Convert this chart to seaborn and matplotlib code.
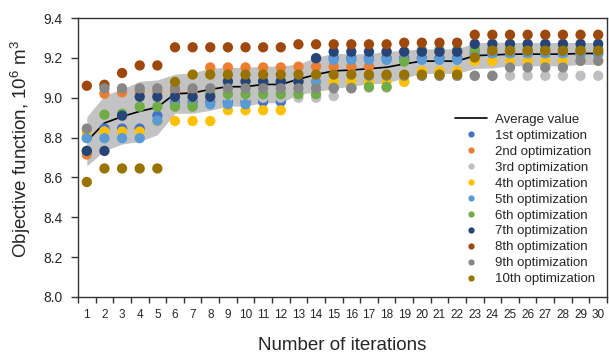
import numpy as np
import pandas as pd
import matplotlib
matplotlib.use("Agg")
import matplotlib.pyplot as plt
import seaborn as sns
from matplotlib.lines import Line2D
from matplotlib.ticker import FormatStrFormatter, FixedLocator

iterations = list(range(1, 31))

opt1 = [8.800, 8.845, 8.845, 8.845, 8.910, 8.980, 8.980, 8.980, 8.980, 8.980,
        8.980, 8.980, 9.080, 9.198, 9.200, 9.200, 9.200, 9.200, 9.200, 9.200,
        9.200, 9.200, 9.220, 9.220, 9.220, 9.220, 9.220, 9.220, 9.220, 9.220]
opt2 = [8.715, 9.020, 9.027, 9.030, 9.030, 9.030, 9.030, 9.152, 9.152, 9.152,
        9.152, 9.152, 9.156, 9.156, 9.156, 9.156, 9.156, 9.230, 9.230, 9.230,
        9.230, 9.230, 9.230, 9.230, 9.230, 9.230, 9.230, 9.230, 9.230, 9.230]
opt3 = [8.733, 8.830, 8.910, 9.000, 9.000, 9.000, 9.000, 9.000, 9.000, 9.000,
        9.000, 9.000, 9.000, 9.000, 9.008, 9.050, 9.050, 9.050, 9.080, 9.110,
        9.110, 9.110, 9.110, 9.110, 9.110, 9.110, 9.110, 9.110, 9.110, 9.110]
opt4 = [8.820, 8.830, 8.830, 8.830, 8.883, 8.883, 8.883, 8.883, 8.937, 8.937,
        8.937, 8.937, 9.080, 9.080, 9.080, 9.080, 9.080, 9.080, 9.080, 9.133,
        9.133, 9.133, 9.184, 9.184, 9.184, 9.184, 9.184, 9.184, 9.185, 9.185]
opt5 = [8.797, 8.797, 8.797, 8.797, 8.885, 8.967, 8.967, 8.967, 8.967, 8.967,
        9.080, 9.080, 9.080, 9.080, 9.190, 9.190, 9.190, 9.190, 9.190, 9.190,
        9.190, 9.190, 9.223, 9.223, 9.223, 9.223, 9.223, 9.223, 9.223, 9.223]
opt6 = [8.733, 8.915, 8.920, 8.955, 8.955, 8.955, 8.955, 9.018, 9.018, 9.018,
        9.018, 9.018, 9.018, 9.018, 9.050, 9.050, 9.055, 9.055, 9.181, 9.240,
        9.240, 9.240, 9.245, 9.245, 9.245, 9.245, 9.245, 9.245, 9.245, 9.245]
opt7 = [8.733, 8.733, 8.910, 9.005, 9.005, 9.005, 9.005, 9.005, 9.082, 9.082,
        9.082, 9.082, 9.082, 9.198, 9.231, 9.231, 9.231, 9.231, 9.231, 9.231,
        9.231, 9.231, 9.270, 9.270, 9.270, 9.270, 9.270, 9.270, 9.270, 9.270]
opt8 = [9.060, 9.065, 9.124, 9.162, 9.162, 9.253, 9.253, 9.253, 9.253, 9.253,
        9.253, 9.253, 9.268, 9.268, 9.268, 9.268, 9.268, 9.268, 9.276, 9.276,
        9.276, 9.276, 9.316, 9.316, 9.316, 9.316, 9.316, 9.316, 9.316, 9.316]
opt9 = [8.845, 9.047, 9.047, 9.047, 9.047, 9.047, 9.047, 9.047, 9.047, 9.047,
        9.047, 9.047, 9.047, 9.047, 9.047, 9.047, 9.110, 9.110, 9.110, 9.110,
        9.110, 9.110, 9.110, 9.110, 9.152, 9.152, 9.152, 9.152, 9.185, 9.185]
opt10 = [8.577, 8.645, 8.645, 8.645, 8.645, 9.079, 9.116, 9.116, 9.116, 9.116,
         9.116, 9.116, 9.116, 9.116, 9.116, 9.116, 9.116, 9.116, 9.116, 9.116,
         9.116, 9.116, 9.202, 9.236, 9.236, 9.236, 9.236, 9.236, 9.236, 9.236]

series_names = ["1st optimization", "2nd optimization", "3rd optimization",
                "4th optimization", "5th optimization", "6th optimization",
                "7th optimization", "8th optimization", "9th optimization",
                "10th optimization"]
series_values = [opt1, opt2, opt3, opt4, opt5, opt6, opt7, opt8, opt9, opt10]
colors = ["#4472C4", "#ED7D31", "#BFBFBF", "#FFC000", "#5B9BD5",
          "#70AD47", "#264478", "#9E480E", "#878787", "#997300"]

y_ticks = [8.0, 8.2, 8.4, 8.6, 8.8, 9.0, 9.2, 9.4]

df = pd.DataFrame({
    "iteration": np.tile(iterations, len(series_names)),
    "series": np.repeat(series_names, len(iterations)),
    "value": np.concatenate([np.array(v) for v in series_values]),
})
stats = df.groupby("iteration")["value"].agg(["mean", "std"]).reset_index()

sns.set_theme(style="white")
plt.rcParams["font.family"] = ["Liberation Sans", "DejaVu Sans"]
plt.rcParams["mathtext.fontset"] = "custom"
plt.rcParams["mathtext.rm"] = "Liberation Sans"
plt.rcParams["mathtext.it"] = "Liberation Sans"

fig = plt.figure(figsize=(6.09, 3.56), dpi=100)
ax = fig.add_axes([78 / 609, 1 - 297 / 356, 529 / 609, 279 / 356])

ax.fill_between(stats["iteration"], stats["mean"] - stats["std"],
                stats["mean"] + stats["std"], color="#C3C3C3", lw=0, zorder=1)
sns.lineplot(data=stats, x="iteration", y="mean", color="black", lw=1.2,
             ax=ax, zorder=2, legend=False)
sns.scatterplot(data=df, x="iteration", y="value", hue="series",
                hue_order=series_names, palette=colors, s=55, linewidth=0,
                ax=ax, zorder=3, legend=False)

ax.set_xlim(0.5, 30.5)
ax.set_ylim(8.0, 9.4)
ax.set_yticks(y_ticks)
ax.yaxis.set_major_formatter(FormatStrFormatter("%.1f"))
ax.set_xticks(iterations)
ax.set_xticklabels([str(i) for i in iterations])
ax.xaxis.set_minor_locator(FixedLocator(np.arange(0.5, 31, 1.0)))
ax.tick_params(axis="x", which="major", length=0, pad=9, labelsize=8.5,
               colors="#262626")
ax.tick_params(axis="x", which="minor", length=4, width=1, color="#333333",
               direction="out", bottom=True)
ax.tick_params(axis="y", which="major", length=5, width=1, color="#333333",
               direction="out", left=True, labelsize=10, pad=6,
               labelcolor="#262626")

for sp in ax.spines.values():
    sp.set_visible(True)
    sp.set_color("#333333")
    sp.set_linewidth(1.0)

ax.set_xlabel("Number of iterations", fontsize=13.5, color="#262626")
ax.set_ylabel("Objective function, 10$^{6}$ m$^{3}$", fontsize=13.5,
              color="#262626")
ax.xaxis.set_label_coords(0.5, -0.145)
ax.yaxis.set_label_coords(-0.085, 0.53)

handles = [Line2D([0], [0], color="black", lw=1.2)]
labels = ["Average value"]
for name, c in zip(series_names, colors):
    handles.append(Line2D([0], [0], marker="o", linestyle="none",
                          markersize=4.5, markerfacecolor=c,
                          markeredgewidth=0))
    labels.append(name)
leg = ax.legend(handles, labels, loc="upper left",
                bbox_to_anchor=(0.713, 0.657), frameon=False, fontsize=9.5,
                handlelength=2.4, handletextpad=0.6, labelspacing=0.28,
                borderpad=0, borderaxespad=0)
for t in leg.get_texts():
    t.set_color("#262626")

fig.savefig("out.png", dpi=100)
